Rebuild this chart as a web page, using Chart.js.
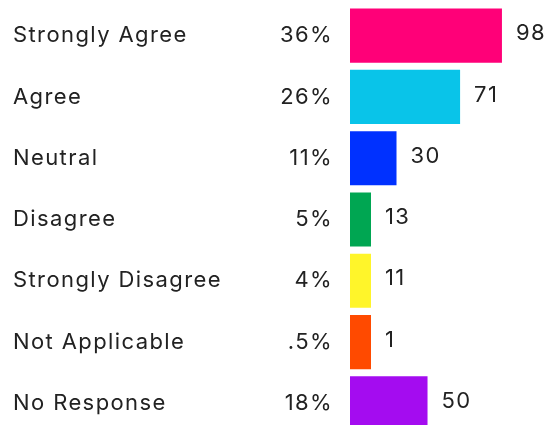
<!DOCTYPE html>
<html>
<head>
<meta charset="utf-8">
<script src="https://cdn.jsdelivr.net/npm/chart.js@4"></script>
<style>
  html, body { margin: 0; padding: 0; background: #ffffff; overflow: hidden; }
  #wrap { width: 548px; height: 425px; overflow: hidden; }
  canvas { display: block; }
</style>
</head>
<body>
<div id="wrap"><canvas id="c" width="548" height="434"></canvas></div>
<script>
// Survey responses
const categories = ['Strongly Agree', 'Agree', 'Neutral', 'Disagree', 'Strongly Disagree', 'Not Applicable', 'No Response'];
const counts = [98, 71, 30, 13, 11, 1, 50];
const percentLabels = ['36%', '26%', '11%', '5%', '4%', '.5%', '18%'];
const barColors = ['#FF0078', '#09C4E9', '#0031FF', '#00A652', '#FFF52A', '#FF4A00', '#A40CF0'];

const FONT = { family: 'Inter, "Open Sans", sans-serif', size: 22 };
const TEXT = '#222222';
const SPACING = '1.4px';

// Slightly wider tracking for every piece of text on the canvas
const tracking = {
  id: 'tracking',
  beforeDraw(chart) { chart.ctx.letterSpacing = SPACING; }
};

// Writes each count just past the end of its bar
const valueLabels = {
  id: 'valueLabels',
  afterDatasetsDraw(chart) {
    const ctx = chart.ctx;
    const meta = chart.getDatasetMeta(0);
    ctx.save();
    ctx.letterSpacing = SPACING;
    ctx.font = FONT.size + 'px ' + FONT.family;
    ctx.fillStyle = TEXT;
    ctx.textAlign = 'left';
    ctx.textBaseline = 'middle';
    meta.data.forEach((bar, i) => {
      ctx.fillText(String(counts[i]), bar.x + 14, bar.y - 2);
    });
    ctx.restore();
  }
};

function noEdgePadding(scale) {
  scale.paddingTop = 0;
  scale.paddingBottom = 0;
}

new Chart(document.getElementById('c'), {
  type: 'bar',
  data: {
    labels: categories,
    datasets: [{
      data: counts,
      backgroundColor: barColors,
      borderWidth: 0,
      barPercentage: 0.883,
      categoryPercentage: 1,
      minBarLength: 21,
      yAxisID: 'y'
    }]
  },
  options: {
    indexAxis: 'y',
    responsive: false,
    animation: false,
    events: [],
    layout: { padding: { left: 13, top: 5, bottom: 0, right: 0 } },
    plugins: { legend: { display: false }, tooltip: { enabled: false } },
    scales: {
      x: { display: false, min: 0, max: 127.7 },
      y: {
        position: 'left',
        weight: 1,
        offset: true,
        border: { display: false },
        grid: { display: false, drawTicks: false },
        ticks: { crossAlign: 'far', padding: 0, color: TEXT, font: FONT },
        afterFit(scale) { scale.width = 217; noEdgePadding(scale); }
      },
      y2: {
        type: 'category',
        position: 'left',
        weight: 0,
        offset: true,
        labels: percentLabels,
        border: { display: false },
        grid: { display: false, drawTicks: false },
        ticks: { crossAlign: 'near', padding: 17, color: TEXT, font: FONT },
        afterFit(scale) { scale.width = 120; noEdgePadding(scale); }
      }
    }
  },
  plugins: [tracking, valueLabels]
});
</script>
</body>
</html>
